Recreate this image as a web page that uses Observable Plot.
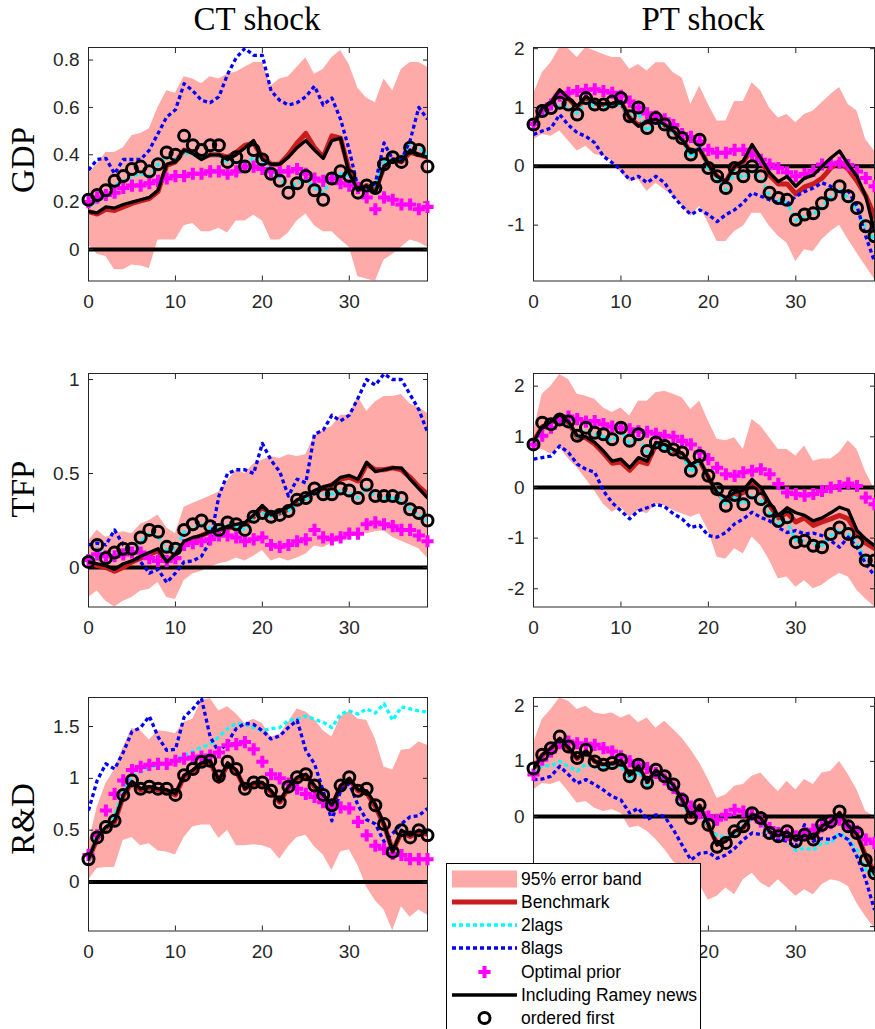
<!DOCTYPE html>
<html><head><meta charset="utf-8">
<script src="https://cdn.jsdelivr.net/npm/d3@7"></script>
<script src="https://cdn.jsdelivr.net/npm/@observablehq/plot@0.6"></script>
<style>
html,body{margin:0;padding:0;background:#fff;}
#wrap{position:relative;width:875px;height:1029px;overflow:hidden;background:#fff;}
.panel{position:absolute;}
#labels{position:absolute;left:0;top:0;}
#legend{position:absolute;left:446px;top:863px;width:255px;height:185px;border:1px solid #000;background:#fff;box-sizing:border-box;}
</style></head><body>
<div id="wrap"></div>
<script>
// ---------------- data ----------------
const horizon = [0,1,2,3,4,5,6,7,8,9,10,11,12,13,14,15,16,17,18,19,20,21,22,23,24,25,26,27,28,29,30,31,32,33,34,35,36,37,38,39];
const xTicks = [0,10,20,30];
const columnTitles = ["CT shock", "PT shock"];
const rowTitles = ["GDP", "TFP", "R&D"];
const legendLabels = ["95% error band","Benchmark","2lags","8lags","Optimal prior","Including Ramey news","ordered first"];
const gdpTicks = [0,0.2,0.4,0.6,0.8];
const gdpPTTicks = [-1,0,1,2];
const tfpTicks = [0,0.5,1];
const tfpPTTicks = [-2,-1,0,1,2];
const rdTicks = [0,0.5,1,1.5];
const rdPTTicks = [-2,-1,0,1,2];
// tick labels of the bottom-right panel that the legend box leaves visible
const rdPTTickLabels = [0,1,2];
const rdPTXTickLabels = [20,30];

// GDP, CT shock
const gdpCT_lo = [0.02,-0.02,-0.03,-0.085,-0.085,-0.065,-0.07,-0.08,0.04,0.04,0.04,0.10,0.11,0.075,0.075,0.09,0.07,0.12,0.12,0.145,0.12,0.04,0.04,0.07,0.12,0.15,0.10,0.075,0.075,0.04,0.01,-0.115,-0.125,-0.135,-0.045,-0.02,0.01,0.04,0.03,0.01];
const gdpCT_hi = [0.32,0.36,0.41,0.41,0.43,0.48,0.49,0.51,0.60,0.67,0.66,0.73,0.72,0.70,0.73,0.72,0.74,0.75,0.77,0.79,0.79,0.69,0.72,0.73,0.77,0.81,0.74,0.76,0.81,0.84,0.78,0.68,0.64,0.62,0.72,0.67,0.76,0.79,0.79,0.77];
const gdpCT_bench = [0.16,0.15,0.17,0.165,0.18,0.195,0.205,0.215,0.245,0.355,0.37,0.42,0.41,0.39,0.40,0.40,0.39,0.41,0.44,0.45,0.39,0.36,0.36,0.40,0.45,0.49,0.43,0.39,0.48,0.47,0.33,0.25,0.27,0.25,0.35,0.38,0.37,0.41,0.40,0.39];
const gdpCT_lags2 = [0.18,0.20,0.23,0.27,0.29,0.31,0.32,0.31,0.36,0.39,0.38,0.41,0.40,0.39,0.40,0.40,0.37,0.37,0.36,0.39,0.37,0.33,0.30,0.26,0.28,0.30,0.26,0.24,0.30,0.32,0.31,0.25,0.27,0.27,0.37,0.38,0.38,0.45,0.43,0.40];
const gdpCT_lags8 = [0.335,0.38,0.385,0.32,0.38,0.38,0.38,0.42,0.49,0.56,0.59,0.70,0.67,0.63,0.62,0.645,0.74,0.81,0.85,0.82,0.82,0.67,0.63,0.61,0.62,0.645,0.69,0.61,0.64,0.55,0.42,0.26,0.25,0.28,0.45,0.38,0.38,0.46,0.60,0.55];
const gdpCT_opt = [0.20,0.22,0.23,0.24,0.26,0.27,0.27,0.28,0.29,0.30,0.31,0.31,0.32,0.32,0.33,0.33,0.32,0.33,0.35,0.35,0.34,0.33,0.33,0.33,0.34,0.32,0.30,0.29,0.30,0.28,0.27,0.26,0.22,0.17,0.22,0.21,0.19,0.19,0.17,0.18];
const gdpCT_ramey = [0.16,0.155,0.18,0.175,0.19,0.20,0.21,0.22,0.25,0.36,0.37,0.42,0.405,0.38,0.40,0.40,0.38,0.40,0.43,0.46,0.38,0.36,0.36,0.39,0.43,0.46,0.42,0.385,0.46,0.47,0.32,0.25,0.27,0.24,0.35,0.38,0.37,0.42,0.40,0.39];
const gdpCT_first = [0.21,0.23,0.25,0.29,0.31,0.34,0.35,0.33,0.36,0.41,0.40,0.48,0.44,0.42,0.44,0.44,0.37,0.39,0.35,0.42,0.38,0.32,0.29,0.24,0.28,0.31,0.25,0.21,0.30,0.33,0.31,0.24,0.27,0.26,0.36,0.39,0.37,0.43,0.42,0.35];

// GDP, PT shock
const gdpPT_lo = [0.45,0.54,0.51,0.60,0.43,0.26,0.34,0.20,0.17,0.09,-0.11,-0.26,-0.23,-0.43,-0.29,-0.40,-0.51,-0.68,-0.85,-0.68,-0.97,-1.28,-1.28,-1.11,-1.02,-0.80,-0.80,-1.02,-1.19,-1.31,-1.62,-1.42,-1.45,-1.25,-1.11,-1.00,-1.25,-1.48,-1.70,-1.92];
const gdpPT_hi = [1.22,1.59,1.76,2.02,2.00,1.85,2.02,1.96,1.90,1.85,1.85,1.65,1.73,1.62,1.76,1.76,1.59,1.50,1.05,1.36,1.05,0.77,0.77,1.10,1.10,1.42,1.28,0.99,0.82,0.88,0.74,0.88,0.94,1.08,1.22,1.34,1.05,0.94,0.45,0.26];
const gdpPT_bench = [0.71,0.99,1.08,1.28,1.15,1.00,1.17,1.07,1.05,1.06,1.09,0.82,0.70,0.76,0.79,0.70,0.59,0.46,0.23,0.30,0.02,-0.17,-0.26,0.00,0.08,0.30,0.10,-0.15,-0.30,-0.30,-0.47,-0.35,-0.30,-0.20,-0.03,0.08,-0.05,-0.25,-0.50,-0.85];
const gdpPT_lags2 = [0.75,0.90,0.98,1.02,1.02,0.90,1.08,1.02,1.00,1.02,1.05,0.85,0.90,0.60,0.75,0.68,0.57,0.45,0.15,0.35,-0.05,-0.20,-0.40,-0.10,-0.20,-0.08,-0.20,-0.50,-0.58,-0.62,-0.92,-0.85,-0.82,-0.68,-0.52,-0.40,-0.55,-0.75,-1.05,-1.25];
const gdpPT_lags8 = [0.54,0.60,0.65,0.88,0.70,0.57,0.51,0.40,0.17,0.06,-0.06,-0.23,-0.17,-0.28,-0.17,-0.28,-0.51,-0.68,-0.82,-0.74,-0.82,-0.94,-0.82,-0.74,-0.62,-0.45,-0.51,-0.57,-0.62,-0.65,-0.51,-0.43,-0.37,-0.28,-0.34,-0.45,-0.42,-0.68,-1.19,-1.62];
const gdpPT_opt = [0.72,0.95,1.05,1.20,1.25,1.28,1.30,1.31,1.28,1.25,1.20,1.10,1.00,0.90,0.85,0.80,0.70,0.55,0.50,0.42,0.28,0.23,0.23,0.28,0.28,0.20,0.11,0.03,-0.03,-0.10,-0.17,-0.13,-0.08,0.03,0.04,0.06,0.02,-0.09,-0.20,-0.34];
const gdpPT_ramey = [0.71,0.99,1.08,1.30,1.16,1.02,1.19,1.08,1.06,1.07,1.10,0.82,0.68,0.77,0.80,0.71,0.60,0.45,0.23,0.30,0.02,-0.17,-0.26,0.00,0.09,0.37,0.14,-0.11,-0.26,-0.17,-0.34,-0.20,-0.15,0.00,0.14,0.26,0.03,-0.17,-0.51,-1.10];
const gdpPT_first = [0.71,0.94,0.99,1.08,1.05,0.88,1.16,1.05,1.05,1.10,1.16,0.85,1.00,0.65,0.82,0.71,0.57,0.48,0.20,0.45,-0.03,-0.17,-0.37,-0.03,-0.17,0.00,-0.17,-0.45,-0.54,-0.57,-0.91,-0.82,-0.80,-0.63,-0.48,-0.34,-0.51,-0.71,-1.02,-1.19];

// TFP, CT shock
const tfpCT_lo = [-0.16,-0.125,-0.18,-0.21,-0.18,-0.16,-0.125,-0.115,-0.08,-0.16,-0.17,-0.07,-0.035,-0.02,0.00,0.02,0.03,0.05,0.035,0.06,0.09,0.035,0.05,0.035,0.05,0.07,0.115,0.105,0.13,0.14,0.16,0.195,0.18,0.19,0.195,0.16,0.14,0.12,0.10,0.05];
const tfpCT_hi = [0.14,0.20,0.16,0.18,0.19,0.18,0.23,0.25,0.28,0.21,0.18,0.32,0.34,0.36,0.38,0.40,0.46,0.52,0.50,0.55,0.57,0.59,0.58,0.60,0.59,0.60,0.70,0.73,0.75,0.81,0.81,0.91,0.83,0.88,0.91,0.91,0.92,0.87,0.85,0.82];
const tfpCT_bench = [0.03,0.01,0.00,-0.02,0.00,0.03,0.05,0.07,0.09,0.03,0.07,0.13,0.15,0.17,0.19,0.20,0.21,0.22,0.23,0.27,0.32,0.28,0.29,0.31,0.35,0.37,0.40,0.42,0.44,0.47,0.48,0.46,0.55,0.52,0.52,0.53,0.52,0.48,0.43,0.39];
const tfpCT_lags2 = [0.02,0.10,0.05,0.07,0.09,0.10,0.14,0.18,0.17,0.09,0.10,0.19,0.21,0.23,0.21,0.21,0.23,0.22,0.20,0.26,0.29,0.27,0.28,0.30,0.34,0.36,0.40,0.39,0.39,0.41,0.40,0.37,0.42,0.38,0.37,0.37,0.36,0.31,0.28,0.25];
const tfpCT_lags8 = [0.12,0.13,0.12,0.20,0.12,0.08,0.03,-0.03,-0.01,-0.08,-0.03,0.03,0.035,0.06,0.14,0.38,0.50,0.52,0.52,0.50,0.66,0.57,0.51,0.38,0.47,0.45,0.71,0.73,0.81,0.78,0.81,0.90,1.00,0.97,1.03,1.00,1.00,0.92,0.84,0.72];
const tfpCT_opt = [0.04,0.07,0.06,0.06,0.07,0.08,0.08,0.05,0.035,0.035,0.05,0.12,0.13,0.14,0.15,0.17,0.17,0.16,0.14,0.15,0.16,0.12,0.11,0.12,0.14,0.15,0.20,0.16,0.15,0.16,0.18,0.18,0.23,0.24,0.23,0.22,0.20,0.20,0.17,0.14];
const tfpCT_ramey = [0.03,0.02,0.01,-0.01,0.02,0.035,0.06,0.08,0.10,0.03,0.07,0.14,0.16,0.17,0.19,0.20,0.22,0.23,0.24,0.28,0.33,0.28,0.30,0.32,0.36,0.38,0.41,0.43,0.44,0.48,0.49,0.47,0.56,0.51,0.52,0.53,0.53,0.47,0.42,0.37];
const tfpCT_first = [0.03,0.12,0.05,0.08,0.10,0.10,0.16,0.20,0.19,0.11,0.10,0.20,0.23,0.25,0.22,0.20,0.24,0.23,0.20,0.27,0.29,0.27,0.28,0.30,0.36,0.37,0.42,0.39,0.39,0.42,0.41,0.37,0.44,0.38,0.38,0.38,0.37,0.31,0.29,0.25];

// TFP, PT shock
const tfpPT_lo = [0.75,0.75,0.66,0.79,0.56,0.39,0.16,-0.07,-0.33,-0.49,-0.39,-0.59,-0.46,-0.52,-0.33,-0.36,-0.46,-0.52,-0.59,-0.52,-0.85,-1.38,-1.41,-1.21,-1.31,-0.98,-1.15,-1.44,-1.80,-1.77,-1.97,-1.84,-2.00,-1.93,-1.80,-1.70,-1.77,-2.03,-2.20,-2.36];
const tfpPT_hi = [1.10,1.84,2.00,2.23,2.13,1.84,1.80,1.74,1.57,1.48,1.57,1.41,1.70,1.70,1.87,1.90,1.84,1.77,1.54,1.70,1.31,0.95,0.92,0.98,0.75,1.34,1.21,0.98,0.75,0.75,0.62,0.82,0.52,0.56,0.56,0.69,0.92,0.75,0.30,-0.03];
const tfpPT_bench = [0.90,1.20,1.28,1.42,1.28,1.00,0.98,0.86,0.68,0.48,0.50,0.34,0.52,0.47,0.85,0.83,0.73,0.66,0.44,0.53,0.20,-0.10,-0.25,-0.15,-0.10,0.12,-0.05,-0.35,-0.60,-0.50,-0.68,-0.60,-0.75,-0.68,-0.62,-0.55,-0.62,-0.90,-1.10,-1.20];
const tfpPT_lags2 = [0.82,1.20,1.22,1.30,1.25,1.00,1.12,1.05,1.00,0.92,1.10,0.88,0.98,0.70,0.85,0.78,0.72,0.65,0.30,0.55,0.20,-0.05,-0.35,-0.20,-0.33,-0.15,-0.25,-0.50,-0.70,-0.68,-1.05,-1.05,-1.12,-1.15,-0.95,-0.82,-0.92,-1.10,-1.45,-1.50];
const tfpPT_lags8 = [0.56,0.59,0.62,0.82,0.69,0.46,0.36,0.30,-0.07,-0.30,-0.46,-0.62,-0.46,-0.40,-0.33,-0.38,-0.52,-0.62,-0.79,-0.75,-0.95,-0.98,-0.89,-0.72,-0.62,-0.49,-0.59,-0.66,-0.79,-0.89,-0.85,-0.92,-0.90,-0.95,-1.05,-1.18,-0.98,-1.18,-1.51,-1.74];
const tfpPT_opt = [0.85,1.02,1.18,1.35,1.40,1.35,1.30,1.31,1.25,1.20,1.18,1.15,1.11,1.10,1.06,1.02,1.00,0.92,0.85,0.69,0.56,0.39,0.26,0.23,0.30,0.33,0.36,0.26,0.07,-0.10,-0.13,-0.16,-0.13,-0.07,0.00,0.03,0.08,0.03,-0.20,-0.33];
const tfpPT_ramey = [0.90,1.20,1.30,1.44,1.30,1.02,1.00,0.89,0.72,0.52,0.56,0.39,0.59,0.52,0.89,0.85,0.75,0.68,0.45,0.55,0.20,-0.10,-0.20,-0.10,-0.05,0.16,0.00,-0.30,-0.55,-0.40,-0.50,-0.55,-0.66,-0.60,-0.50,-0.39,-0.45,-0.85,-1.02,-1.15];
const tfpPT_first = [0.85,1.28,1.25,1.34,1.30,1.02,1.18,1.08,1.05,0.95,1.18,0.92,1.05,0.72,0.89,0.82,0.75,0.69,0.33,0.62,0.23,-0.03,-0.36,-0.15,-0.33,-0.10,-0.23,-0.46,-0.66,-0.59,-1.08,-1.05,-1.15,-1.18,-0.92,-0.79,-0.92,-1.08,-1.44,-1.44];

// R&D, CT shock
const rdCT_lo = [0.02,0.13,0.14,0.14,0.40,0.43,0.35,0.37,0.30,0.29,0.26,0.43,0.53,0.55,0.55,0.42,0.50,0.35,0.35,0.36,0.35,0.32,0.22,0.34,0.43,0.45,0.34,0.26,0.11,0.29,0.31,0.16,-0.05,-0.18,-0.27,-0.47,-0.24,-0.34,-0.27,-0.32];
const rdCT_hi = [0.37,0.72,0.95,1.08,1.30,1.48,1.46,1.37,1.46,1.45,1.43,1.54,1.57,1.75,1.77,1.65,1.69,1.62,1.53,1.57,1.53,1.40,1.42,1.54,1.67,1.64,1.57,1.46,1.40,1.59,1.65,1.57,1.56,1.38,1.11,1.08,1.27,1.28,1.35,1.32];
const rdCT_bench = [0.22,0.42,0.52,0.58,0.83,0.96,0.89,0.91,0.89,0.88,0.84,1.02,1.07,1.14,1.16,0.97,1.13,1.07,0.90,0.95,0.95,0.87,0.77,0.91,1.00,1.03,0.92,0.83,0.73,0.92,0.99,0.88,0.86,0.73,0.55,0.30,0.48,0.44,0.48,0.46];
const rdCT_lags2 = [0.20,0.45,0.52,0.65,0.88,1.02,1.06,1.10,1.13,1.14,1.18,1.22,1.26,1.30,1.33,1.40,1.48,1.53,1.52,1.49,1.46,1.48,1.49,1.56,1.57,1.60,1.57,1.54,1.49,1.62,1.65,1.62,1.67,1.63,1.72,1.56,1.69,1.67,1.65,1.64];
const rdCT_lags8 = [0.69,0.98,1.14,1.09,1.25,1.45,1.49,1.60,1.40,1.27,1.28,1.59,1.67,1.77,1.40,1.25,1.35,1.48,1.53,1.52,1.46,1.38,1.41,1.49,1.56,1.27,1.14,0.88,0.59,0.88,0.95,0.74,0.60,0.56,0.39,0.47,0.56,0.63,0.64,0.71];
const rdCT_opt = [0.26,0.45,0.69,0.85,0.98,1.08,1.11,1.13,1.14,1.14,1.17,1.19,1.20,1.21,1.22,1.25,1.32,1.33,1.35,1.28,1.16,1.04,1.00,0.95,0.90,0.85,0.82,0.77,0.73,0.72,0.71,0.58,0.45,0.35,0.32,0.27,0.26,0.22,0.22,0.22];
const rdCT_ramey = [0.22,0.43,0.53,0.59,0.84,0.97,0.90,0.92,0.90,0.89,0.85,1.03,1.08,1.15,1.17,0.98,1.15,1.08,0.90,0.96,0.96,0.88,0.78,0.92,1.01,1.04,0.93,0.84,0.74,0.93,1.00,0.89,0.88,0.75,0.56,0.29,0.50,0.45,0.50,0.47];
const rdCT_first = [0.22,0.43,0.53,0.59,0.84,0.98,0.90,0.92,0.90,0.90,0.84,1.03,1.09,1.16,1.17,1.02,1.16,1.09,0.90,0.96,0.96,0.88,0.77,0.92,1.01,1.04,0.93,0.84,0.74,0.93,1.01,0.88,0.90,0.74,0.56,0.29,0.50,0.43,0.50,0.45];

// R&D, PT shock
const rdPT_lo = [0.48,0.60,0.58,0.64,0.45,0.24,0.27,0.15,0.09,0.12,0.06,-0.21,-0.18,-0.27,-0.42,-0.60,-0.82,-0.97,-1.15,-1.24,-1.52,-1.45,-1.30,-1.42,-1.15,-1.03,-1.21,-1.30,-1.15,-1.30,-1.45,-1.33,-1.42,-1.24,-1.15,-1.18,-1.27,-1.58,-1.82,-2.03];
const rdPT_hi = [1.33,1.76,1.94,2.15,2.09,1.94,2.00,1.88,1.85,1.88,1.79,1.85,1.70,1.79,1.60,1.73,1.58,1.42,1.21,0.97,0.67,0.33,0.39,0.55,0.58,0.73,0.79,0.61,0.45,0.64,0.48,0.67,0.58,0.79,0.82,1.00,0.76,0.48,0.09,0.00];
const rdPT_bench = [0.87,1.11,1.23,1.40,1.24,1.05,1.18,1.00,0.94,0.96,1.01,0.74,0.91,0.62,0.83,0.71,0.56,0.30,0.00,0.19,-0.16,-0.50,-0.43,-0.28,-0.20,0.03,-0.04,-0.28,-0.36,-0.29,-0.42,-0.35,-0.40,-0.18,-0.11,0.05,-0.18,-0.33,-0.72,-1.02];
const rdPT_lags2 = [0.80,0.92,0.92,1.00,0.91,0.82,0.95,0.90,0.88,0.90,0.92,0.68,0.82,0.55,0.80,0.70,0.50,0.20,0.05,0.15,-0.18,-0.35,-0.38,-0.30,-0.15,-0.05,-0.12,-0.30,-0.35,-0.42,-0.62,-0.57,-0.61,-0.48,-0.48,-0.30,-0.42,-0.61,-0.97,-1.09];
const rdPT_lags8 = [0.67,0.68,0.73,0.91,0.76,0.60,0.67,0.58,0.48,0.36,0.30,0.06,0.15,-0.06,0.03,0.00,-0.24,-0.52,-0.79,-0.67,-0.65,-0.76,-0.70,-0.58,-0.42,-0.30,-0.33,-0.36,-0.42,-0.45,-0.55,-0.15,-0.45,-0.40,-0.42,-0.33,-0.42,-0.73,-1.15,-1.70];
const rdPT_opt = [0.76,1.03,1.18,1.33,1.36,1.33,1.32,1.30,1.24,1.18,1.09,1.00,0.94,0.88,0.79,0.67,0.52,0.33,0.18,0.06,0.00,-0.06,0.03,0.12,0.09,0.03,-0.09,-0.21,-0.30,-0.33,-0.36,-0.30,-0.24,-0.18,-0.12,-0.06,-0.18,-0.27,-0.42,-0.48];
const rdPT_ramey = [0.87,1.12,1.24,1.42,1.25,1.06,1.19,1.00,0.94,0.96,1.02,0.75,0.92,0.62,0.84,0.72,0.57,0.30,0.00,0.20,-0.15,-0.52,-0.45,-0.27,-0.20,0.04,-0.03,-0.28,-0.35,-0.28,-0.43,-0.34,-0.40,-0.17,-0.10,0.07,-0.17,-0.32,-0.75,-1.05];
const rdPT_first = [0.87,1.12,1.24,1.45,1.27,1.06,1.21,1.00,0.94,0.97,1.03,0.73,0.94,0.61,0.85,0.73,0.58,0.30,-0.03,0.21,-0.15,-0.55,-0.48,-0.27,-0.18,0.06,-0.03,-0.30,-0.36,-0.27,-0.45,-0.33,-0.42,-0.15,-0.09,0.09,-0.18,-0.30,-0.79,-1.03];

// ---------------- styling / layout ----------------
const BAND = "#fdaaa8", RED = "#c91c1c", CYAN = "#00ffff", BLUE = "#0000ff", MAG = "#ff00ff", AX = "#262626";
const FONT = "'Liberation Sans', Arial, Helvetica, sans-serif";
const SERIF = "'Liberation Serif', 'Times New Roman', serif";
const DOT = "4,3";
const TICKFONT = 19;
const fmt = d => String(d);

const cols = [
  {left: 0, width: 440, ml: 88, mr: 13},
  {left: 440, width: 435, ml: 93, mr: 1}
];
const innerH = 233.5;
const rowsG = [
  {frameTop: 47.3}, {frameTop: 372.7}, {frameTop: 697.4}
];
const MT = 20, MB = 45;

const panels = [
  {col:0,row:0,domain:[-0.133,0.853],ticks:gdpTicks,lo:gdpCT_lo,hi:gdpCT_hi,bench:gdpCT_bench,lags2:gdpCT_lags2,lags8:gdpCT_lags8,opt:gdpCT_opt,ramey:gdpCT_ramey,first:gdpCT_first},
  {col:1,row:0,domain:[-1.95,2.02],ticks:gdpPTTicks,lo:gdpPT_lo,hi:gdpPT_hi,bench:gdpPT_bench,lags2:gdpPT_lags2,lags8:gdpPT_lags8,opt:gdpPT_opt,ramey:gdpPT_ramey,first:gdpPT_first},
  {col:0,row:1,domain:[-0.21,1.032],ticks:tfpTicks,lo:tfpCT_lo,hi:tfpCT_hi,bench:tfpCT_bench,lags2:tfpCT_lags2,lags8:tfpCT_lags8,opt:tfpCT_opt,ramey:tfpCT_ramey,first:tfpCT_first},
  {col:1,row:1,domain:[-2.36,2.25],ticks:tfpPTTicks,lo:tfpPT_lo,hi:tfpPT_hi,bench:tfpPT_bench,lags2:tfpPT_lags2,lags8:tfpPT_lags8,opt:tfpPT_opt,ramey:tfpPT_ramey,first:tfpPT_first},
  {col:0,row:2,domain:[-0.473,1.78],ticks:rdTicks,lo:rdCT_lo,hi:rdCT_hi,bench:rdCT_bench,lags2:rdCT_lags2,lags8:rdCT_lags8,opt:rdCT_opt,ramey:rdCT_ramey,first:rdCT_first},
  {col:1,row:2,domain:[-2.08,2.16],ticks:rdPTTicks,labelTicks:rdPTTickLabels,xLabelTicks:rdPTXTickLabels,lo:rdPT_lo,hi:rdPT_hi,bench:rdPT_bench,lags2:rdPT_lags2,lags8:rdPT_lags8,opt:rdPT_opt,ramey:rdPT_ramey,first:rdPT_first}
];

const wrap = document.getElementById("wrap");

function drawPanel(p) {
  const data = horizon.map((h, i) => ({
    h, lo: p.lo[i], hi: p.hi[i], bench: p.bench[i], lags2: p.lags2[i], lags8: p.lags8[i],
    opt: p.opt[i], ramey: p.ramey[i], first: p.first[i]
  }));
  const c = cols[p.col], r = rowsG[p.row];
  const chart = Plot.plot({
    width: c.width, height: MT + innerH + MB,
    marginLeft: c.ml, marginRight: c.mr, marginTop: MT, marginBottom: MB,
    x: {domain: [0, 39]},
    y: {domain: p.domain},
    style: {fontFamily: FONT, fontSize: TICKFONT + "px", color: AX, background: "transparent", overflow: "visible"},
    marks: [
      Plot.areaY(data, {x: "h", y1: "lo", y2: "hi", fill: BAND, clip: true}),
      Plot.ruleY([0], {stroke: "#000", strokeWidth: 4}),
      Plot.frame({stroke: AX, strokeWidth: 1}),
      Plot.axisX({ticks: xTicks, anchor: "bottom", tickSize: 5, dy: -5, fill: "none", stroke: AX, label: null}),
      Plot.axisX({ticks: xTicks, anchor: "top", tickSize: 5, dy: 5, fill: "none", stroke: AX, label: null}),
      Plot.axisY({ticks: p.ticks, anchor: "left", tickSize: 5, dx: 5, fill: "none", stroke: AX, label: null}),
      Plot.axisY({ticks: p.ticks, anchor: "right", tickSize: 5, dx: -5, fill: "none", stroke: AX, label: null}),
      Plot.axisX({ticks: p.xLabelTicks || xTicks, anchor: "bottom", tickSize: 0, tickPadding: 13, tickFormat: fmt, fill: AX, fontSize: TICKFONT, fontFamily: FONT, label: null}),
      Plot.axisY({ticks: p.labelTicks || p.ticks, anchor: "left", tickSize: 0, tickPadding: 9, tickFormat: fmt, fill: AX, fontSize: TICKFONT, fontFamily: FONT, label: null}),
      Plot.line(data, {x: "h", y: "bench", stroke: RED, strokeWidth: 5, clip: true}),
      Plot.line(data, {x: "h", y: "lags2", stroke: CYAN, strokeWidth: 3.3, strokeDasharray: DOT, strokeLinecap: "butt", clip: true}),
      Plot.line(data, {x: "h", y: "lags8", stroke: BLUE, strokeWidth: 3.3, strokeDasharray: DOT, strokeLinecap: "butt", clip: true}),
      Plot.dot(data, {x: "h", y: "opt", symbol: "cross", fill: MAG, r: 5.1}),
      Plot.line(data, {x: "h", y: "ramey", stroke: "#000", strokeWidth: 3.3, clip: true}),
      Plot.dot(data, {x: "h", y: "first", r: 5.5, stroke: "#000", strokeWidth: 3, fill: "none"})
    ]
  });
  const div = document.createElement("div");
  div.className = "panel";
  div.style.left = c.left + "px";
  div.style.top = (r.frameTop - MT) + "px";
  div.appendChild(chart);
  wrap.appendChild(div);
}
panels.forEach(drawPanel);

// titles and row labels
const lab = d3.select(wrap).append("svg").attr("id", "labels").attr("width", 875).attr("height", 1029)
  .style("pointer-events", "none");
const titleX = [257, 703];
columnTitles.forEach((t, i) => {
  lab.append("text").attr("x", titleX[i]).attr("y", 30).attr("text-anchor", "middle")
    .attr("font-family", SERIF).attr("font-size", 33).attr("fill", "#000").text(t);
});
const rowY = [160, 489, 819];
rowTitles.forEach((t, i) => {
  lab.append("text").attr("transform", `translate(34,${rowY[i]}) rotate(-90)`).attr("text-anchor", "middle")
    .attr("font-family", SERIF).attr("font-size", 33).attr("fill", "#000").text(t);
});

// legend
const leg = d3.select(wrap).append("div").attr("id", "legend");
const ls = leg.append("svg").attr("width", 253).attr("height", 183);
const rowCY = [15, 38, 61, 84, 108, 131, 154];
const sx0 = 5, sx1 = 70, scx = 37.5;
ls.append("rect").attr("x", sx0).attr("y", rowCY[0] - 8.5).attr("width", sx1 - sx0).attr("height", 17).attr("fill", BAND);
ls.append("line").attr("x1", sx0).attr("x2", sx1).attr("y1", rowCY[1]).attr("y2", rowCY[1]).attr("stroke", RED).attr("stroke-width", 5);
ls.append("line").attr("x1", sx0).attr("x2", sx1).attr("y1", rowCY[2]).attr("y2", rowCY[2]).attr("stroke", CYAN).attr("stroke-width", 3.3).attr("stroke-dasharray", DOT);
ls.append("line").attr("x1", sx0).attr("x2", sx1).attr("y1", rowCY[3]).attr("y2", rowCY[3]).attr("stroke", BLUE).attr("stroke-width", 3.3).attr("stroke-dasharray", DOT);
ls.append("path").attr("transform", `translate(${scx},${rowCY[4]})`).attr("d", d3.symbol(d3.symbolCross, 5.1 * 5.1 * Math.PI)()).attr("fill", MAG);
ls.append("line").attr("x1", sx0).attr("x2", sx1).attr("y1", rowCY[5]).attr("y2", rowCY[5]).attr("stroke", "#000").attr("stroke-width", 3.3);
ls.append("circle").attr("cx", scx).attr("cy", rowCY[6]).attr("r", 5.5).attr("fill", "none").attr("stroke", "#000").attr("stroke-width", 3);
legendLabels.forEach((t, i) => {
  ls.append("text").attr("x", 74).attr("y", rowCY[i] + 6.3).attr("font-family", FONT).attr("font-size", 17.5).attr("fill", "#000").text(t);
});
</script>
</body></html>
